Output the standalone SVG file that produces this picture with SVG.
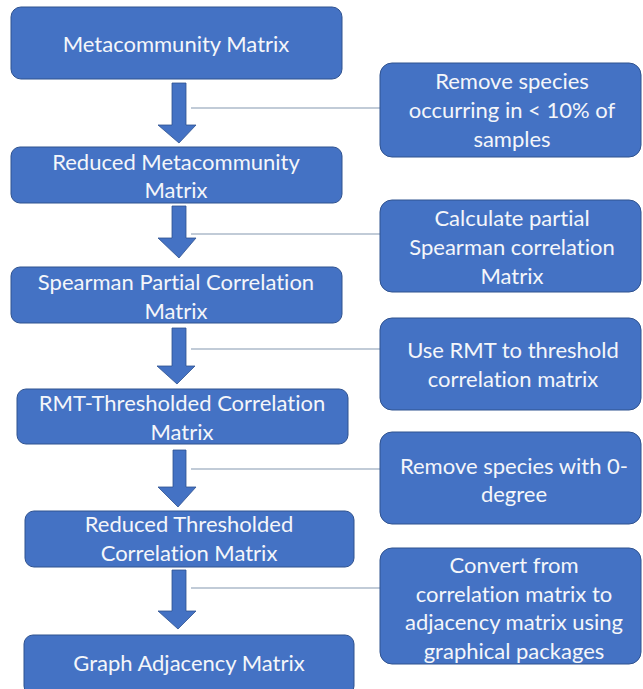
<svg xmlns="http://www.w3.org/2000/svg" width="643" height="689" viewBox="0 0 643 689">
<style>
.box{fill:#4472C4;stroke:#2F528F;stroke-width:1}
.arr{fill:#4472C4;stroke:#2F528F;stroke-width:0.8}
.t{font-family:Lato,"Open Sans","Liberation Sans",sans-serif;font-size:22px;fill:#F4F6FA;text-anchor:middle;dominant-baseline:central;font-variant-ligatures:none;font-feature-settings:"liga" 0}
.ln{stroke:#8497B0;stroke-width:1.2;fill:none}
</style>
<rect width="643" height="689" fill="#ffffff"/>
<g id="connectors">
<path class="arr" d="M172,83 H186 V125 H196 L179,143 L158,125 H172 Z"/>
<path class="arr" d="M172,206 H186 V238 H196 L179,258 L158,238 H172 Z"/>
<path class="arr" d="M172,328 H186 V366 H195 L177,384 L157,366 H172 Z"/>
<path class="arr" d="M173,450 H186 V487 H196 L178,507 L158,487 H173 Z"/>
<path class="arr" d="M172,570 H186 V611 H196 L178,629 L158,611 H172 Z"/>
<line class="ln" x1="191" y1="108" x2="380" y2="108"/>
<line class="ln" x1="191" y1="234" x2="380" y2="234"/>
<line class="ln" x1="191" y1="349" x2="380" y2="349"/>
<line class="ln" x1="191" y1="469" x2="380" y2="469"/>
<line class="ln" x1="191" y1="588" x2="380" y2="588"/>
</g>
<g id="n1"><rect class="box" x="11" y="7" width="331" height="72" rx="10"/><text class="t" x="176" y="43">Metacommunity Matrix</text></g>
<g id="n2"><rect class="box" x="11" y="147" width="331" height="56" rx="9"/><text class="t" x="176" y="161">Reduced Metacommunity</text><text class="t" x="176" y="189">Matrix</text></g>
<g id="n3"><rect class="box" x="11" y="267" width="331" height="56" rx="9"/><text class="t" x="176" y="281">Spearman Partial Correlation</text><text class="t" x="176" y="310">Matrix</text></g>
<g id="n4"><rect class="box" x="17" y="389" width="331" height="55" rx="9"/><text class="t" x="182" y="402">RMT-Thresholded Correlation</text><text class="t" x="182" y="431">Matrix</text></g>
<g id="n5"><rect class="box" x="25" y="511" width="329" height="56" rx="9"/><text class="t" x="189" y="523">Reduced Thresholded</text><text class="t" x="189" y="552">Correlation Matrix</text></g>
<g id="n6"><rect class="box" x="24" y="635" width="330" height="60" rx="9"/><text class="t" x="189" y="662">Graph Adjacency Matrix</text></g>
<g id="r1"><rect class="box" x="380" y="63" width="261" height="94" rx="12"/><text class="t" x="512" y="80">Remove species</text><text class="t" x="512" y="109">occurring in &lt; 10% of</text><text class="t" x="512" y="138">samples</text></g>
<g id="r2"><rect class="box" x="380" y="200" width="261" height="92" rx="12"/><text class="t" x="512" y="217">Calculate partial</text><text class="t" x="512" y="246">Spearman correlation</text><text class="t" x="512" y="275">Matrix</text></g>
<g id="r3"><rect class="box" x="380" y="318" width="261" height="92" rx="12"/><text class="t" x="513" y="349">Use RMT to threshold</text><text class="t" x="513" y="378">correlation matrix</text></g>
<g id="r4"><rect class="box" x="380" y="432" width="261" height="92" rx="12"/><text class="t" x="514" y="465">Remove species with 0-</text><text class="t" x="514" y="493">degree</text></g>
<g id="r5"><rect class="box" x="380" y="548" width="261" height="116" rx="12"/><text class="t" x="514" y="564">Convert from</text><text class="t" x="514" y="593">correlation matrix to</text><text class="t" x="514" y="621">adjacency matrix using</text><text class="t" x="514" y="650">graphical packages</text></g>
</svg>
